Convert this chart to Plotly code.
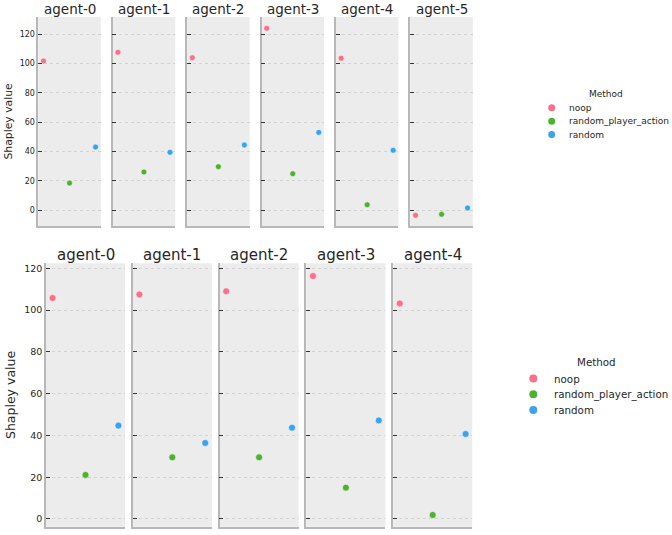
import plotly.graph_objects as go

W, H = 672, 535

methods = ["noop", "random_player_action", "random"]
colors = ["#f77189", "#50b131", "#3ba3ec"]

top_agents = ["agent-0", "agent-1", "agent-2", "agent-3", "agent-4", "agent-5"]
top_noop = [101.8, 107.7, 104.0, 124.1, 103.6, -3.6]
top_rpa = [18.4, 26.0, 29.6, 24.8, 3.6, -2.9]
top_random = [43.0, 39.4, 44.4, 53.0, 40.8, 1.4]

bot_agents = ["agent-0", "agent-1", "agent-2", "agent-3", "agent-4"]
bot_noop = [105.8, 107.5, 109.0, 116.3, 103.2]
bot_rpa = [21.1, 29.5, 29.5, 15.0, 1.9]
bot_random = [44.7, 36.4, 43.7, 47.2, 40.7]

y_ticks = [0, 20, 40, 60, 80, 100, 120]

FONT = "DejaVu Sans"
TXT = "#262626"

fig = go.Figure()
layout = {}
annotations = []
shapes = []


def px_x(p):
    return p / W


def px_y(p):
    return 1 - p / H


rows = [
    dict(agents=top_agents, vals=[top_noop, top_rpa, top_random], x0=38.3, step=74.4, w=62.5,
         top=17, bottom=226, yrange=[-10.9, 131.8], tickfont=8, titlefont=13.5, title_gap=-2.5,
         msize=6, ylab_font=10.8, ylab_x=8,
         legfont=9, leg_title=(605.5, 94), leg_mx=551.7, leg_tx=567, leg_y=[107.7, 121.2, 134.5],
         leg_r=3.5),
    dict(agents=bot_agents, vals=[bot_noop, bot_rpa, bot_random], x0=46, step=86.8, w=79,
         top=263.3, bottom=526.7, yrange=[-3.7, 122.4], tickfont=9.5, titlefont=15, title_gap=-2.5,
         msize=7, ylab_font=12.5, ylab_x=10,
         legfont=10.3, leg_title=(596, 362.3), leg_mx=533.3, leg_tx=551.5, leg_y=[378.5, 394.3, 410],
         leg_r=4),
]

k = 0
for r, row in enumerate(rows):
    for i, agent in enumerate(row["agents"]):
        k += 1
        xa = "x" if k == 1 else f"x{k}"
        ya = "y" if k == 1 else f"y{k}"
        xl = px_x(row["x0"] + i * row["step"])
        xr = px_x(row["x0"] + i * row["step"] + row["w"])
        layout["xaxis" if k == 1 else f"xaxis{k}"] = dict(
            domain=[xl, xr], anchor=ya, type="category", categoryorder="array",
            categoryarray=methods, range=[-0.2, 2.2], showticklabels=False, ticks="",
            showgrid=False, zeroline=False, showline=True, linecolor="#b8b8b8", linewidth=1.5,
            fixedrange=True)
        layout["yaxis" if k == 1 else f"yaxis{k}"] = dict(
            domain=[px_y(row["bottom"]), px_y(row["top"])], anchor=xa, range=row["yrange"],
            tickvals=y_ticks, showticklabels=(i == 0), ticks="inside", ticklen=4,
            tickwidth=1.2, tickcolor="#333333",
            tickfont=dict(size=row["tickfont"], color=TXT, family=FONT),
            showgrid=True, gridcolor="#d2d2d2", griddash="dot", gridwidth=0.8, zeroline=False,
            showline=True, linecolor="#b8b8b8", linewidth=1.5, fixedrange=True)
        for m, meth in enumerate(methods):
            fig.add_trace(go.Scatter(
                x=[meth], y=[row["vals"][m][i]], mode="markers", xaxis=xa, yaxis=ya, name=meth,
                marker=dict(color=colors[m], size=row["msize"], line=dict(width=0.6, color="white")),
                showlegend=False, hoverinfo="skip"))
        annotations.append(dict(
            text=agent, xref="paper", yref="paper", x=(xl + xr) / 2,
            y=px_y(row["top"] - row["title_gap"]),
            xanchor="center", yanchor="bottom", showarrow=False,
            font=dict(size=row["titlefont"], color=TXT, family=FONT)))
    # legend (drawn as text + circle symbols to match the compact spacing)
    tx, ty = row["leg_title"]
    annotations.append(dict(
        text="Method", xref="paper", yref="paper", x=px_x(tx), y=px_y(ty),
        xanchor="center", yanchor="middle", showarrow=False,
        font=dict(size=row["legfont"], color=TXT, family=FONT)))
    rr = row["leg_r"]
    for m, meth in enumerate(methods):
        cy = row["leg_y"][m]
        shapes.append(dict(
            type="circle", xref="paper", yref="paper",
            x0=px_x(row["leg_mx"] - rr), x1=px_x(row["leg_mx"] + rr),
            y0=px_y(cy + rr), y1=px_y(cy - rr),
            fillcolor=colors[m], line=dict(width=0)))
        annotations.append(dict(
            text=meth, xref="paper", yref="paper", x=px_x(row["leg_tx"]), y=px_y(cy),
            xanchor="left", yanchor="middle", showarrow=False,
            font=dict(size=row["legfont"], color=TXT, family=FONT)))
    annotations.append(dict(
        text="Shapley value", xref="paper", yref="paper", x=px_x(row["ylab_x"]),
        y=px_y((row["top"] + row["bottom"]) / 2), textangle=-90, xanchor="center",
        yanchor="middle", showarrow=False, font=dict(size=row["ylab_font"], color=TXT, family=FONT)))

fig.update_layout(
    width=W, height=H, margin=dict(l=0, r=0, t=0, b=0), showlegend=False,
    paper_bgcolor="white", plot_bgcolor="#ececec",
    font=dict(family=FONT, color=TXT), annotations=annotations, shapes=shapes, **layout)

fig.write_html("out.html", config={"displayModeBar": False},
               post_script="document.body.style.margin='0px';")
